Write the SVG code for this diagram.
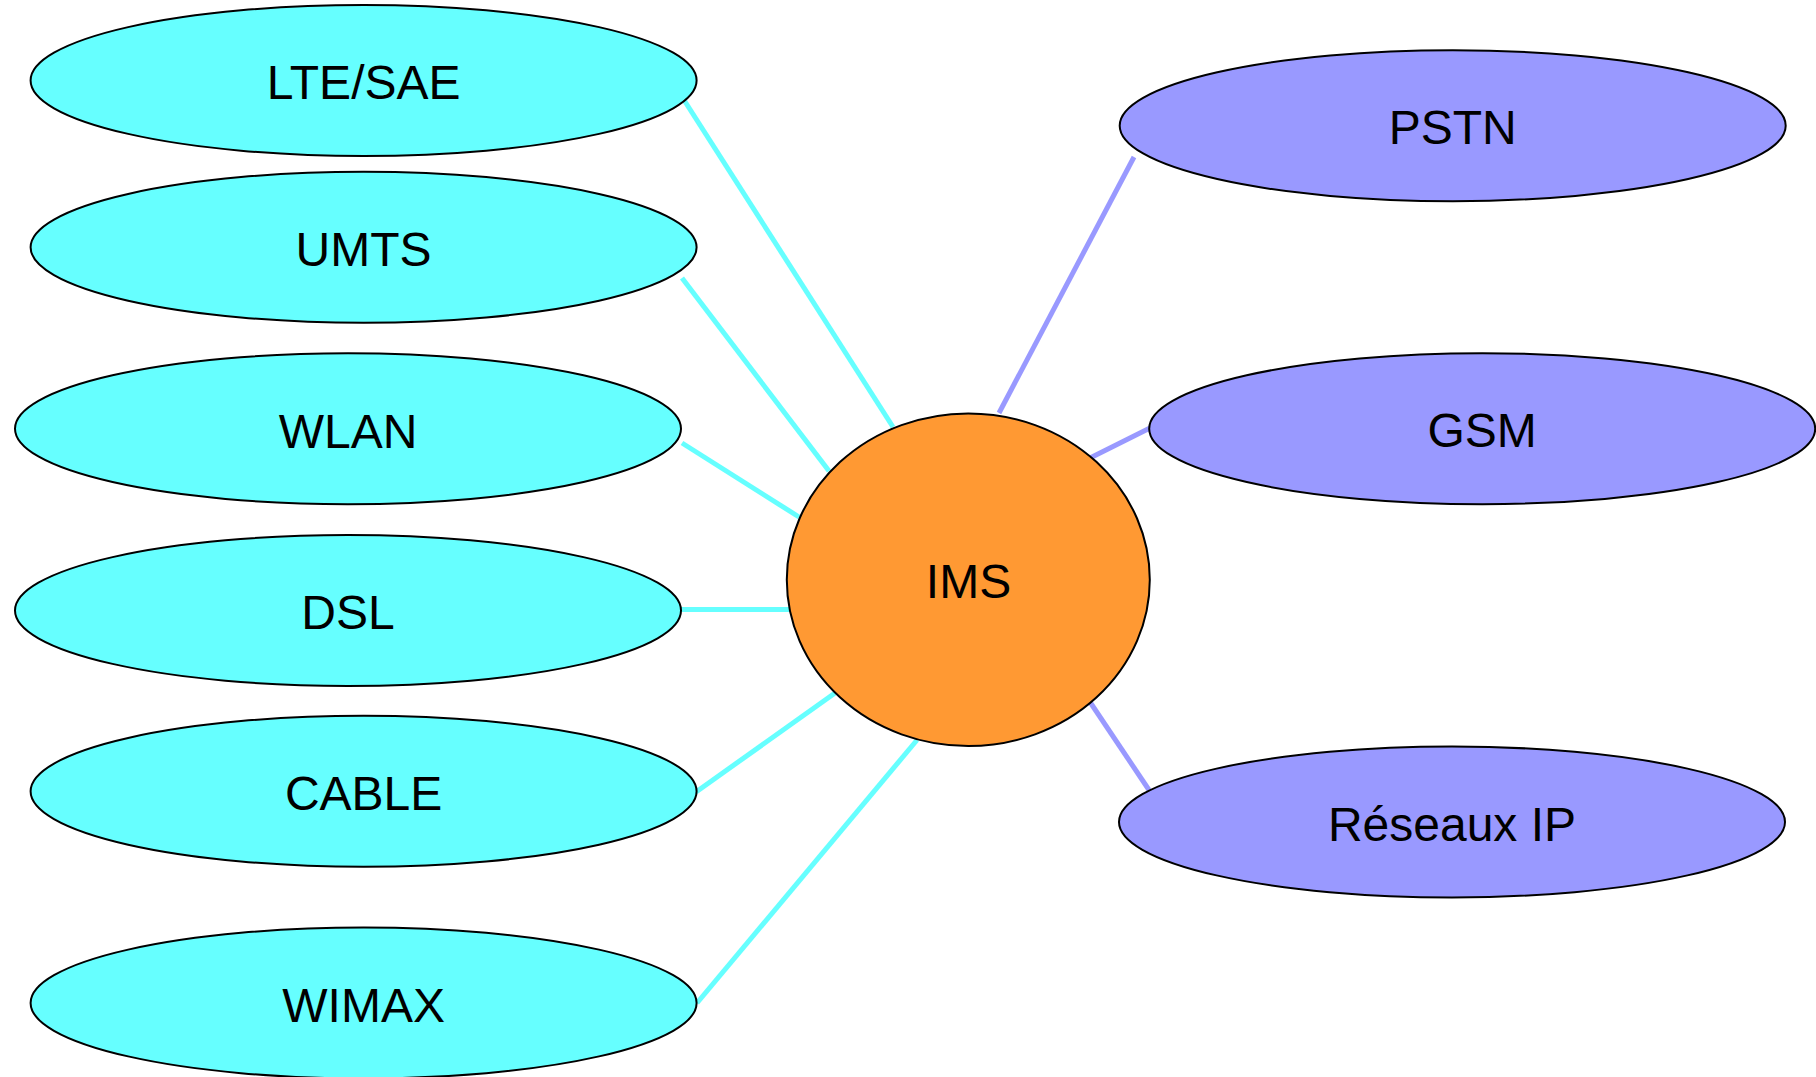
<svg xmlns="http://www.w3.org/2000/svg" width="1816" height="1077" viewBox="0 0 1816 1077">
<style>
.bg{fill:#ffffff}
.acc{fill:#66FFFF;stroke:#000;stroke-width:2}
.net{fill:#9999FF;stroke:#000;stroke-width:2}
.core{fill:#FF9933;stroke:#000;stroke-width:2}
.lbl{font-family:"Liberation Sans",Arial,Helvetica,sans-serif;font-size:48px;fill:#000;text-anchor:middle}
.lc{stroke:#66FFFF;stroke-width:5;fill:none}
.lp{stroke:#9999FF;stroke-width:5;fill:none}
</style>
<rect class="bg" x="0" y="0" width="1816" height="1077"/>
<g id="connectors">
<line class="lc" x1="684" y1="100" x2="893" y2="427"/>
<line class="lc" x1="682" y1="278" x2="829" y2="471"/>
<line class="lc" x1="682" y1="443" x2="799" y2="517"/>
<line class="lc" x1="681" y1="609.5" x2="789" y2="609.5"/>
<line class="lc" x1="696" y1="792" x2="835" y2="693"/>
<line class="lc" x1="697" y1="1003" x2="917" y2="740"/>
<line class="lp" x1="1134" y1="157" x2="999" y2="413"/>
<line class="lp" x1="1150" y1="428" x2="1090" y2="458"/>
<line class="lp" x1="1090" y1="702" x2="1149" y2="790"/>
</g>
<g id="lte-sae"><ellipse class="acc" cx="363.6" cy="80.5" rx="333" ry="75.5"/><text class="lbl" x="363.6" y="99">LTE/SAE</text></g>
<g id="umts"><ellipse class="acc" cx="363.6" cy="247.3" rx="333" ry="75.5"/><text class="lbl" x="363.6" y="266">UMTS</text></g>
<g id="wlan"><ellipse class="acc" cx="348" cy="428.7" rx="333" ry="75.5"/><text class="lbl" x="348" y="447.5">WLAN</text></g>
<g id="dsl"><ellipse class="acc" cx="348" cy="610.5" rx="333" ry="75.5"/><text class="lbl" x="348" y="629">DSL</text></g>
<g id="cable"><ellipse class="acc" cx="363.6" cy="791.3" rx="333" ry="75.5"/><text class="lbl" x="363.6" y="810">CABLE</text></g>
<g id="wimax"><ellipse class="acc" cx="363.6" cy="1003" rx="333" ry="75.5"/><text class="lbl" x="363.6" y="1021.5">WIMAX</text></g>
<g id="ims"><ellipse class="core" cx="968.3" cy="579.7" rx="181.5" ry="166.3"/><text class="lbl" x="968.5" y="598.3">IMS</text></g>
<g id="pstn"><ellipse class="net" cx="1452.7" cy="125.7" rx="333" ry="75.5"/><text class="lbl" x="1452.7" y="144.3">PSTN</text></g>
<g id="gsm"><ellipse class="net" cx="1482.2" cy="428.7" rx="333" ry="75.5"/><text class="lbl" x="1482.2" y="447.3">GSM</text></g>
<g id="reseaux-ip"><ellipse class="net" cx="1452" cy="822" rx="333" ry="75.5"/><text class="lbl" x="1452" y="840.6">Réseaux IP</text></g>
</svg>
